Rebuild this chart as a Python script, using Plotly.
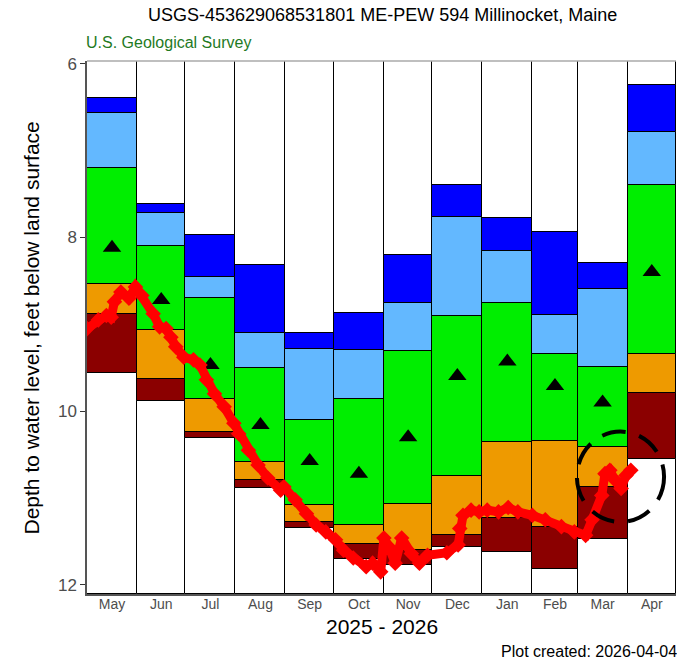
import pandas as pd
import plotly.graph_objects as go

# Monthly groundwater-level statistics (feet below land surface)
months = ["May", "Jun", "Jul", "Aug", "Sep", "Oct", "Nov", "Dec", "Jan", "Feb", "Mar", "Apr"]
month_starts = ["2025-05-01", "2025-06-01", "2025-07-01", "2025-08-01", "2025-09-01", "2025-10-01",
                "2025-11-01", "2025-12-01", "2026-01-01", "2026-02-01", "2026-03-01", "2026-04-01"]
month_days = [31, 30, 31, 31, 30, 31, 30, 31, 31, 28, 31, 30]

stat_max = [6.40, 7.62, 7.97, 8.32, 9.10, 8.87, 8.20, 7.40, 7.78, 7.94, 8.29, 6.25]
stat_p90 = [6.57, 7.72, 8.46, 9.10, 9.28, 9.30, 8.76, 7.76, 8.16, 8.89, 8.59, 6.79]
stat_p75 = [7.20, 8.10, 8.70, 9.50, 10.10, 9.855, 9.31, 8.905, 8.75, 9.34, 9.49, 7.40]
stat_p25 = [8.54, 9.07, 9.855, 10.59, 11.08, 11.31, 11.07, 10.75, 10.36, 10.345, 10.415, 9.34]
stat_p10 = [8.885, 9.63, 10.245, 10.79, 11.28, 11.53, 11.60, 11.43, 11.225, 11.33, 10.875, 9.79]
stat_min = [9.56, 9.885, 10.315, 10.89, 11.35, 11.705, 11.77, 11.565, 11.62, 11.815, 11.475, 10.555]
stat_median = [8.12, 8.72, 9.47, 10.16, 10.575, 10.72, 10.30, 9.595, 9.43, 9.71, 9.90, 8.40]

# Recent daily water levels
obs_dates = ["2025-05-01", "2025-05-08", "2025-05-13", "2025-05-16", "2025-05-18", "2025-05-22",
             "2025-05-27", "2025-05-31", "2025-06-04", "2025-06-11", "2025-06-15", "2025-06-19",
             "2025-06-22", "2025-06-25", "2025-06-30", "2025-07-06", "2025-07-10", "2025-07-14",
             "2025-07-19", "2025-07-25", "2025-07-31", "2025-08-03", "2025-08-09", "2025-08-15",
             "2025-08-21", "2025-08-29", "2025-08-31", "2025-09-07", "2025-09-14", "2025-09-20",
             "2025-09-26", "2025-10-02", "2025-10-07", "2025-10-13", "2025-10-21", "2025-10-25",
             "2025-10-30", "2025-11-01", "2025-11-04", "2025-11-08", "2025-11-12", "2025-11-18",
             "2025-11-23", "2025-11-28", "2025-12-10", "2025-12-17", "2025-12-18", "2025-12-20",
             "2025-12-25", "2025-12-30", "2026-01-04", "2026-01-11", "2026-01-17", "2026-01-23",
             "2026-02-01", "2026-02-09", "2026-02-19", "2026-02-27", "2026-03-06", "2026-03-10",
             "2026-03-16", "2026-03-18", "2026-03-21", "2026-03-24", "2026-03-28", "2026-03-31",
             "2026-04-03"]
obs_levels = [9.05, 8.95, 8.90, 8.92, 8.74, 8.63,
              8.70, 8.57, 8.67, 8.88, 9.03, 9.05,
              9.15, 9.26, 9.38, 9.41, 9.47, 9.64,
              9.80, 9.95, 10.14, 10.26, 10.45, 10.62,
              10.77, 10.91, 10.87, 11.02, 11.18, 11.31,
              11.39, 11.48, 11.60, 11.69, 11.79, 11.75,
              11.85, 11.46, 11.56, 11.75, 11.46, 11.64,
              11.75, 11.66, 11.63, 11.54, 11.35, 11.20,
              11.14, 11.16, 11.14, 11.16, 11.11, 11.16,
              11.20, 11.25, 11.33, 11.39, 11.43, 11.25,
              10.97, 10.72, 10.68, 10.79, 10.89, 10.74,
              10.68]

Y_TOP, Y_BOTTOM = 5.97, 12.105
DAY_MS = 86400000

starts = pd.to_datetime(month_starts)
widths = [d * DAY_MS for d in month_days]
mids = [s + pd.Timedelta(days=d / 2) for s, d in zip(starts, month_days)]

fig = go.Figure()

bands = [
    ([Y_TOP] * 12, stat_max, "white"),
    (stat_max, stat_p90, "#0000FF"),
    (stat_p90, stat_p75, "#63B8FF"),
    (stat_p75, stat_p25, "#00EE00"),
    (stat_p25, stat_p10, "#EE9A00"),
    (stat_p10, stat_min, "#8B0000"),
    (stat_min, [Y_BOTTOM] * 12, "white"),
]
for lo, hi, color in bands:
    fig.add_trace(go.Bar(
        x=starts, base=lo, y=[h - l for l, h in zip(lo, hi)],
        width=widths, offset=0,
        marker=dict(color=color, line=dict(color="black", width=1)),
        showlegend=False, hoverinfo="skip",
    ))

fig.add_trace(go.Scatter(
    x=mids, y=stat_median, mode="markers",
    marker=dict(symbol="triangle-up", size=16, color="black"),
    showlegend=False,
))

fig.add_trace(go.Scatter(
    x=pd.to_datetime(obs_dates), y=obs_levels, mode="lines+markers",
    line=dict(color="#FF0000", width=9),
    marker=dict(symbol="diamond", size=12, color="#FF0000"),
    showlegend=False,
))

# Dashed ring around the most recent readings
last = pd.to_datetime(obs_dates[-5:])
cx = last.mean()
cy = sum(obs_levels[-5:]) / 5
rx = pd.Timedelta(days=27)
ry = 0.52
fig.add_shape(type="circle", xref="x", yref="y",
              x0=cx - rx, x1=cx + rx, y0=cy - ry, y1=cy + ry,
              line=dict(color="black", width=4, dash="24px,14px"))

fig.add_shape(type="line", xref="paper", yref="paper", x0=0, x1=1, y0=1, y1=1,
              line=dict(color="#aaaaaa", width=1.5))

font = "Liberation Sans, Arial, sans-serif"
fig.update_layout(
    width=677, height=661,
    margin=dict(l=87, r=1, t=61, b=67),
    paper_bgcolor="white", plot_bgcolor="white",
    barmode="overlay", bargap=0,
    font=dict(family=font, color="black"),
    xaxis=dict(
        type="date", range=["2025-05-01", "2026-05-01"],
        tickvals=mids, ticktext=months, ticks="",
        tickfont=dict(size=14, color="#4d4d4d"),
        ticklabelstandoff=-4,
        showgrid=False, zeroline=False,
        showline=True, linecolor="#555555", linewidth=1.5,
    ),
    yaxis=dict(
        range=[Y_BOTTOM, Y_TOP], tickvals=[6, 8, 10, 12],
        ticks="outside", ticklen=5, tickcolor="#333333",
        tickfont=dict(size=17, color="#4d4d4d"),
        showgrid=False, zeroline=False,
        showline=True, linecolor="#555555", linewidth=1.5,
    ),
    annotations=[
        dict(text="USGS-453629068531801 ME-PEW 594 Millinocket, Maine",
             xref="paper", yref="paper", x=0.5025, y=1.086, xanchor="center", yanchor="middle",
             showarrow=False, font=dict(size=18, color="black")),
        dict(text="U.S. Geological Survey",
             xref="paper", yref="paper", x=0, y=1.034, xanchor="left", yanchor="middle",
             xshift=-3, showarrow=False, font=dict(size=16, color="#1f7a1f")),
        dict(text="2025 - 2026",
             xref="paper", yref="paper", x=0.5, y=-0.0615, xanchor="center", yanchor="middle",
             showarrow=False, font=dict(size=21, color="black")),
        dict(text="Plot created: 2026-04-04",
             xref="paper", yref="paper", x=1, y=-0.107, xanchor="right", yanchor="middle",
             xshift=3, showarrow=False, font=dict(size=16, color="black")),
        dict(text="Depth to water level, feet below land surface",
             xref="paper", yref="paper", x=-0.0934, y=0.5, xanchor="center", yanchor="middle",
             textangle=-90, showarrow=False, font=dict(size=21, color="black")),
    ],
)

fig.write_html("out.html")
